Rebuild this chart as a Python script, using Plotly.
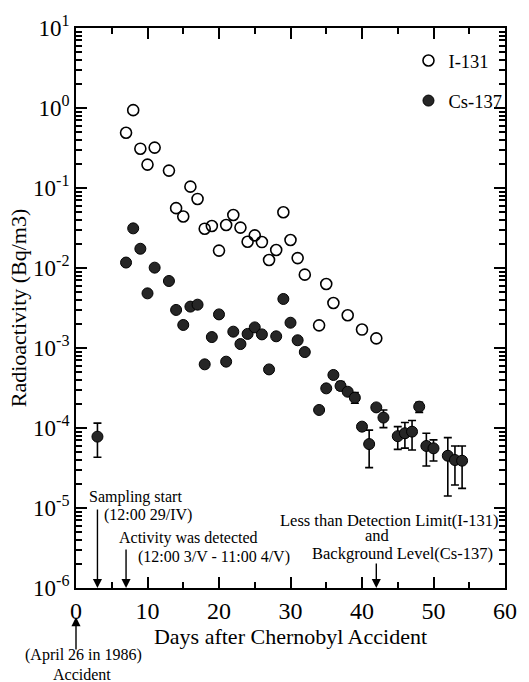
import plotly.graph_objects as go

# ---------------- data ----------------
i131_days = [7, 8, 9, 10, 11, 13, 14, 15, 16, 17, 18, 19, 20, 21, 22, 23, 24, 25, 26,
             27, 28, 29, 30, 31, 32, 34, 35, 36, 38, 40, 42]
i131_vals = [0.49, 0.94, 0.31, 0.196, 0.32, 0.165, 0.056, 0.044, 0.104, 0.073, 0.031,
             0.0335, 0.0165, 0.0345, 0.046, 0.032, 0.0213, 0.0256, 0.0211, 0.0126,
             0.0168, 0.0497, 0.0224, 0.0133, 0.00826, 0.00192, 0.0063, 0.00365,
             0.00257, 0.0017, 0.00132]

cs_days = [3, 7, 8, 9, 10, 11, 13, 14, 15, 16, 17, 18, 19, 20, 21, 22, 23, 24, 25, 26,
           27, 28, 29, 30, 31, 32, 34, 35, 36, 37, 38, 39, 40, 41, 42, 43, 45, 46, 47,
           48, 49, 50, 52, 53, 54]
cs_vals = [7.8e-5, 0.0117, 0.0313, 0.0174, 0.00482, 0.0101, 0.00688, 0.00299, 0.00194,
           0.00329, 0.00348, 0.000625, 0.00137, 0.00263, 0.000675, 0.0016, 0.00112,
           0.0015, 0.00181, 0.00148, 0.00054, 0.0014, 0.0041, 0.00207, 0.00125, 0.00089,
           0.000168, 0.000313, 0.00046, 0.000335, 0.000284, 0.000239, 0.000104, 6.3e-5,
           0.000181, 0.000135, 7.9e-5, 8.6e-5, 9.0e-5, 0.000185, 5.96e-5, 5.57e-5,
           4.5e-5, 3.98e-5, 3.9e-5]
# upper / lower limits of the Cs-137 error bars
cs_upper = {3: 1.15e-4, 20: 0.0029, 37: 0.00038, 39: 2.77e-4, 41: 9.4e-5, 43: 1.68e-4,
            45: 1.04e-4, 46: 1.17e-4, 47: 1.24e-4, 48: 2.1e-4, 49: 8.6e-5, 50: 7.1e-5,
            52: 7.57e-5, 53: 5.96e-5, 54: 5.96e-5}
cs_lower = {3: 4.3e-5, 20: 0.0024, 37: 0.0003, 39: 2.04e-4, 41: 3.2e-5, 43: 1.01e-4,
            45: 5.4e-5, 46: 5.6e-5, 47: 5.3e-5, 48: 1.57e-4, 49: 3.35e-5, 50: 3.87e-5,
            52: 1.41e-5, 53: 1.94e-5, 54: 1.76e-5}

y_decades = [-6, -5, -4, -3, -2, -1, 0, 1]
x_major = [0, 10, 20, 30, 40, 50, 60]
x_all = list(range(0, 61, 5))

err_plus = [cs_upper[d] - v if d in cs_upper else 0 for d, v in zip(cs_days, cs_vals)]
err_minus = [v - cs_lower[d] if d in cs_lower else 0 for d, v in zip(cs_days, cs_vals)]

# tick positions / labels (major labelled, minor blank)
y_major_vals = [10.0 ** d for d in y_decades]
y_all_vals, y_all_text = [], []
for d in y_decades:
    y_all_vals.append(10.0 ** d)
    y_all_text.append("10<sup>%d</sup>" % d)
    if d < 1:
        for m in range(2, 10):
            y_all_vals.append(m * 10.0 ** d)
            y_all_text.append("")
x_all_text = [str(v) if v in x_major else "" for v in x_all]

FONT = "Liberation Serif, Times New Roman, serif"

fig = go.Figure()
fig.add_trace(go.Scatter(
    x=i131_days, y=i131_vals, mode="markers", name="I-131", legendgroup="a",
    xaxis="x2", yaxis="y2",
    marker=dict(symbol="circle-open", size=11, color="black", line=dict(width=1.6, color="black")),
))
fig.add_trace(go.Scatter(
    x=cs_days, y=cs_vals, mode="markers", name="Cs-137", legendgroup="b",
    marker=dict(symbol="circle", size=11, color="#262626", line=dict(width=1, color="black")),
    error_y=dict(type="data", symmetric=False, array=err_plus, arrayminus=err_minus,
                 color="black", thickness=1.6, width=4),
))

common = dict(showline=True, linecolor="black", linewidth=1.8, mirror="ticks",
              showgrid=False, zeroline=False, ticks="inside", tickcolor="black")

fig.update_layout(
    width=529, height=682,
    margin=dict(l=76, r=17, t=28, b=94),
    paper_bgcolor="white", plot_bgcolor="white",
    font=dict(family=FONT, color="black", size=17),
    showlegend=True,
    legend=dict(x=0.775, y=0.975, xanchor="left", yanchor="top", bgcolor="rgba(0,0,0,0)",
                font=dict(family=FONT, size=18.5), tracegroupgap=13, itemwidth=30),
    # labelled axes: every tick position (short ticks)
    xaxis=dict(range=[0, 60], tickmode="array", tickvals=x_all, ticktext=x_all_text,
               ticklen=6, tickwidth=1.8, tickfont=dict(family=FONT, size=24),
               title=dict(text="Days after Chernobyl Accident",
                          font=dict(family=FONT, size=22), standoff=4),
               **common),
    yaxis=dict(type="log", range=[-6, 1], tickmode="array", tickvals=y_all_vals,
               ticktext=y_all_text, ticklen=6, tickwidth=1.7,
               tickfont=dict(family=FONT, size=23),
               title=dict(text="Radioactivity (Bq/m3)", font=dict(family=FONT, size=22),
                          standoff=0),
               **common),
    # overlay axes: long major ticks only
    xaxis2=dict(range=[0, 60], overlaying="x", anchor="y", side="bottom",
                tickmode="array", tickvals=x_major, ticklen=11, tickwidth=1.9,
                showticklabels=False, **common),
    yaxis2=dict(type="log", range=[-6, 1], overlaying="y", anchor="x", side="left",
                tickmode="array", tickvals=y_major_vals, ticklen=11, tickwidth=1.9,
                showticklabels=False, **common),
)

ann_font = dict(family=FONT, size=16, color="black")
arrow_kw = dict(showarrow=True, arrowhead=2, arrowsize=1.3, arrowwidth=1.4, arrowcolor="black",
                text="", axref="pixel", ayref="pixel")
# arrows pointing down to the axis
fig.add_annotation(x=3, y=0, xref="x", yref="paper", ax=0, ay=-80, **arrow_kw)
fig.add_annotation(x=7, y=0, xref="x", yref="paper", ax=0, ay=-40, **arrow_kw)
fig.add_annotation(x=42, y=0, xref="x", yref="paper", ax=0, ay=-26, **arrow_kw)
# accident arrow (below the axis, pointing up)
fig.add_annotation(x=0, y=-0.052, xref="x", yref="paper", ax=0, ay=34, **arrow_kw)

texts = [
    ("Sampling start", 1.5, 0.1625, "left", 16),
    ("(12:00 29/IV)", 3.6, 0.130, "left", 16),
    ("Activity was detected", 5.8, 0.0893, "left", 16),
    ("(12:00 3/V - 11:00 4/V)", 8.4, 0.0554, "left", 16),
    ("Less than Detection Limit(I-131)", 43.9, 0.121, "center", 16.5),
    ("and", 42.1, 0.0946, "center", 16.5),
    ("Background Level(Cs-137)", 45.7, 0.0625, "center", 16.5),
]
for t, xx, yy, anc, fs in texts:
    fig.add_annotation(text=t, x=xx, y=yy, xref="x", yref="paper", xanchor=anc,
                       yanchor="middle", showarrow=False,
                       font=dict(family=FONT, size=fs, color="black"))

fig.add_annotation(text="(April 26 in 1986)", x=0.018, y=-0.1196, xref="paper", yref="paper",
                   xanchor="center", yanchor="middle", showarrow=False, font=ann_font)
fig.add_annotation(text="Accident", x=0.014, y=-0.1545, xref="paper", yref="paper",
                   xanchor="center", yanchor="middle", showarrow=False, font=ann_font)

fig.write_html("out.html")
